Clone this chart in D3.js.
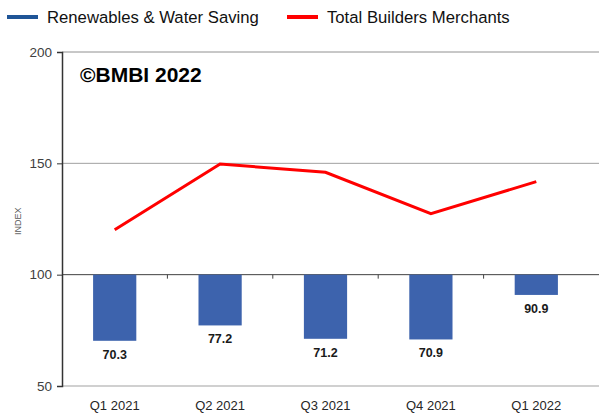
<!DOCTYPE html>
<html>
<head>
<meta charset="utf-8">
<script src="https://cdn.jsdelivr.net/npm/d3@7"></script>
<style>
  body { margin: 0; background: #fff; }
  svg { display: block; font-family: "Liberation Sans", Arial, sans-serif; }
</style>
</head>
<body>
<svg id="chart" width="599" height="414"></svg>
<script>
var quarters = ["Q1 2021", "Q2 2021", "Q3 2021", "Q4 2021", "Q1 2022"];
var renewables = [70.3, 77.2, 71.2, 70.9, 90.9];
var merchants = [120.2, 149.7, 146.0, 127.4, 141.8];
var yTicks = [50, 100, 150, 200];

var svg = d3.select("#chart");
var plotLeft = 62, plotRight = 589, plotTop = 52, plotBottom = 386;

var x = d3.scaleBand()
    .domain(quarters)
    .range([plotLeft, plotRight])
    .paddingInner(0.59)
    .paddingOuter(0.295);

var y = d3.scaleLinear().domain([50, 200]).range([plotBottom, plotTop]);

// gridlines
var gridColor = { 50: "#d0d0d0", 100: "#404040", 150: "#a0a0a0", 200: "#909090" };
svg.append("g")
  .selectAll("line")
  .data(yTicks)
  .enter().append("line")
    .attr("x1", plotLeft)
    .attr("x2", 599)
    .attr("y1", function (d) { return y(d); })
    .attr("y2", function (d) { return y(d); })
    .attr("stroke", function (d) { return gridColor[d]; })
    .attr("stroke-width", function (d) { return d === 50 ? 2 : 1; });

// bars hang from the 100 line
svg.append("g")
  .selectAll("rect")
  .data(renewables)
  .enter().append("rect")
    .attr("x", function (d, i) { return x(quarters[i]); })
    .attr("y", y(100))
    .attr("width", x.bandwidth())
    .attr("height", function (d) { return y(d) - y(100); })
    .attr("fill", "#3d63ad");

// small ticks between categories on the 100 line
var step = x.step();
svg.append("g")
  .selectAll("line")
  .data(quarters.slice(1))
  .enter().append("line")
    .attr("x1", function (d) { return x(d) - (step - x.bandwidth()) / 2; })
    .attr("x2", function (d) { return x(d) - (step - x.bandwidth()) / 2; })
    .attr("y1", y(100))
    .attr("y2", y(100) + 4)
    .attr("stroke", "#404040");

svg.append("g")
  .selectAll("text")
  .data(renewables)
  .enter().append("text")
    .attr("x", function (d, i) { return x(quarters[i]) + x.bandwidth() / 2; })
    .attr("y", function (d) { return y(d) + 18; })
    .attr("text-anchor", "middle")
    .attr("font-size", 12.5)
    .attr("font-weight", "bold")
    .attr("fill", "#1a1a1a")
    .text(function (d) { return d.toFixed(1); });

var line = d3.line()
    .x(function (d, i) { return x(quarters[i]) + x.bandwidth() / 2; })
    .y(function (d) { return y(d); });

svg.append("path")
  .datum(merchants)
  .attr("d", line)
  .attr("fill", "none")
  .attr("stroke", "#ff0000")
  .attr("stroke-width", 3);

// y axis
var yAxis = svg.append("g")
  .attr("transform", "translate(" + plotLeft + ",0)")
  .call(d3.axisLeft(y).tickValues(yTicks).tickSize(5).tickPadding(5));
yAxis.select(".domain").attr("stroke", "#333").attr("stroke-width", 1.5);
yAxis.selectAll(".tick line").attr("stroke", "#333");
yAxis.selectAll("text")
  .attr("font-size", 13.5)
  .attr("fill", "#404040")
  .attr("font-family", "Liberation Sans, Arial, sans-serif");

svg.append("text")
  .attr("transform", "translate(21," + (y(124)) + ") rotate(-90)")
  .attr("text-anchor", "middle")
  .attr("font-size", 9)
  .attr("fill", "#595959")
  .text("INDEX");

// x labels
svg.append("g")
  .selectAll("text")
  .data(quarters)
  .enter().append("text")
    .attr("x", function (d) { return x(d) + x.bandwidth() / 2; })
    .attr("y", 410)
    .attr("text-anchor", "middle")
    .attr("font-size", 13)
    .attr("fill", "#262626")
    .text(function (d) { return d; });

svg.append("text")
  .attr("x", 80)
  .attr("y", 82)
  .attr("font-size", 21)
  .attr("font-weight", "bold")
  .attr("fill", "#000")
  .text("©BMBI 2022");

// legend
var legend = [
  { name: "Renewables & Water Saving", color: "#1f5597", x: 7 },
  { name: "Total Builders Merchants", color: "#ff0000", x: 287 }
];
var lg = svg.append("g").selectAll("g")
  .data(legend)
  .enter().append("g")
    .attr("transform", function (d) { return "translate(" + d.x + ",17)"; });
lg.append("line")
  .attr("x1", 0).attr("x2", 31)
  .attr("stroke", function (d) { return d.color; })
  .attr("stroke-width", 4);
lg.append("text")
  .attr("x", 40)
  .attr("y", 6)
  .attr("font-size", 16.7)
  .attr("fill", "#111")
  .text(function (d) { return d.name; });
</script>
</body>
</html>
